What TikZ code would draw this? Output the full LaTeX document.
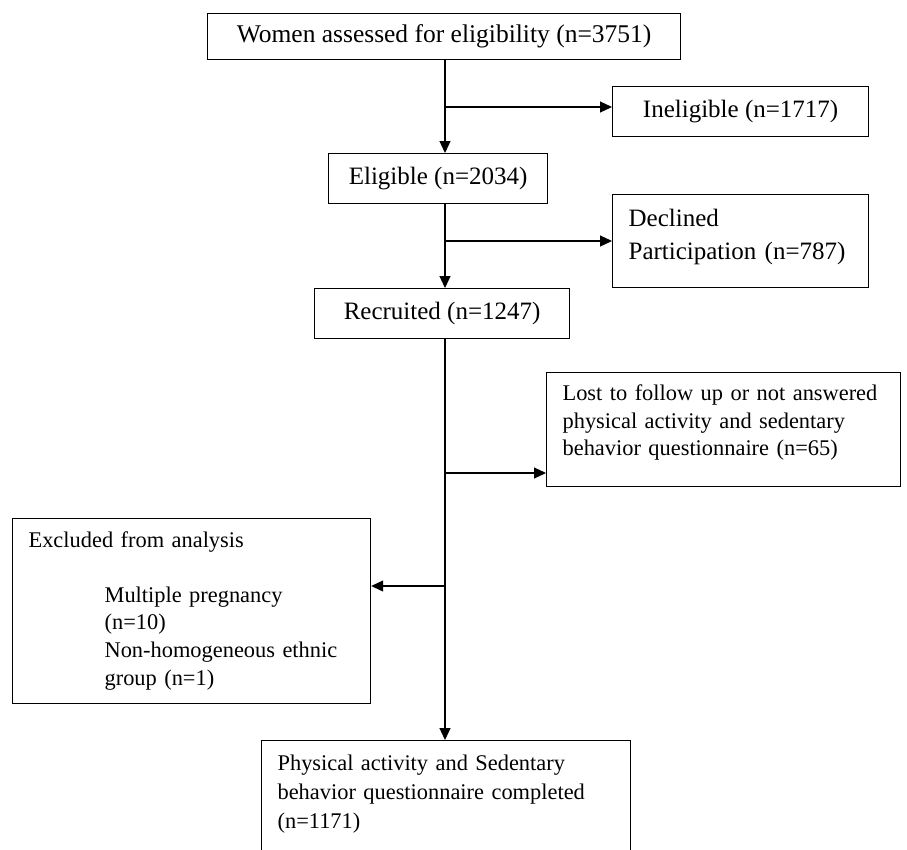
\documentclass[tikz,border=0pt]{standalone}
\usepackage{fontspec}
\setmainfont{Liberation Serif}
\usetikzlibrary{arrows.meta}

\tikzset{
  box/.style={draw, line width=1.2pt, rectangle, inner sep=0pt, anchor=north west},
  upper/.style={font=\fontsize{25}{33}\selectfont},
  lower/.style={font=\fontsize{22.4}{27.6}\selectfont},
  textbox/.style={box, align=left, inner xsep=16pt},
  flow/.style={line width=1.2pt, -{Triangle[length=12pt,width=11pt]}}
}

\begin{document}
\begin{tikzpicture}[x=1pt,y=-1pt]
	\useasboundingbox (0,0) rectangle (907,849);
	\clip (0,0) rectangle (907,849);

	% boxes
	\node[box, font=\fontsize{25.5}{33}\selectfont, minimum width=473pt, minimum height=46pt] (assess) at (207,13) {Women assessed for eligibility (n=3751)};
	\node[box, upper, minimum width=256pt, minimum height=50pt] (inelig) at (612,86) {Ineligible (n=1717)};
	\node[box, upper, minimum width=219pt, minimum height=50pt] (elig) at (328,153) {Eligible (n=2034)};
	\node[textbox, upper, text width=224pt, text height=32pt, text depth=61pt] (decl) at (612,194) {Declined\\Participation (n=787)};
	\node[box, upper, minimum width=255pt, minimum height=50pt] (recr) at (314,288) {Recruited (n=1247)};
	\node[textbox, lower, text width=322pt, text height=28pt, text depth=86pt] (lost) at (546,372)
		{Lost to follow up or not answered\\physical activity and sedentary\\behavior questionnaire (n=65)};
	\node[textbox, lower, text width=326pt, text height=29pt, text depth=156pt] (excl) at (12,518)
		{Excluded from analysis\\[27pt]
		\hspace*{76pt}Multiple pregnancy\\
		\hspace*{76pt}(n=10)\\
		\hspace*{76pt}Non-homogeneous ethnic\\
		\hspace*{76pt}group (n=1)};
	\node[textbox, lower, text width=337pt, text height=30pt, text depth=100pt] (final) at (261,740)
		{Physical activity and Sedentary\\[1.5pt]behavior questionnaire completed\\[1.5pt](n=1171)};

	% branch points on the main line
	\coordinate (b1) at (445,107);
	\coordinate (b2) at (445,241);
	\coordinate (b3) at (445,473);
	\coordinate (b4) at (445,586);

	% arrows
	\draw[flow] (assess.south -| b1) -- (elig.north -| b1);
	\draw[flow] (b1) -- (b1 -| inelig.west);
	\draw[flow] (elig.south -| b2) -- (recr.north -| b2);
	\draw[flow] (b2) -- (b2 -| decl.west);
	\draw[flow] (recr.south -| b3) -- (final.north -| b3);
	\draw[flow] (b3) -- (b3 -| lost.west);
	\draw[flow] (b4) -- (b4 -| excl.east);
\end{tikzpicture}
\end{document}
